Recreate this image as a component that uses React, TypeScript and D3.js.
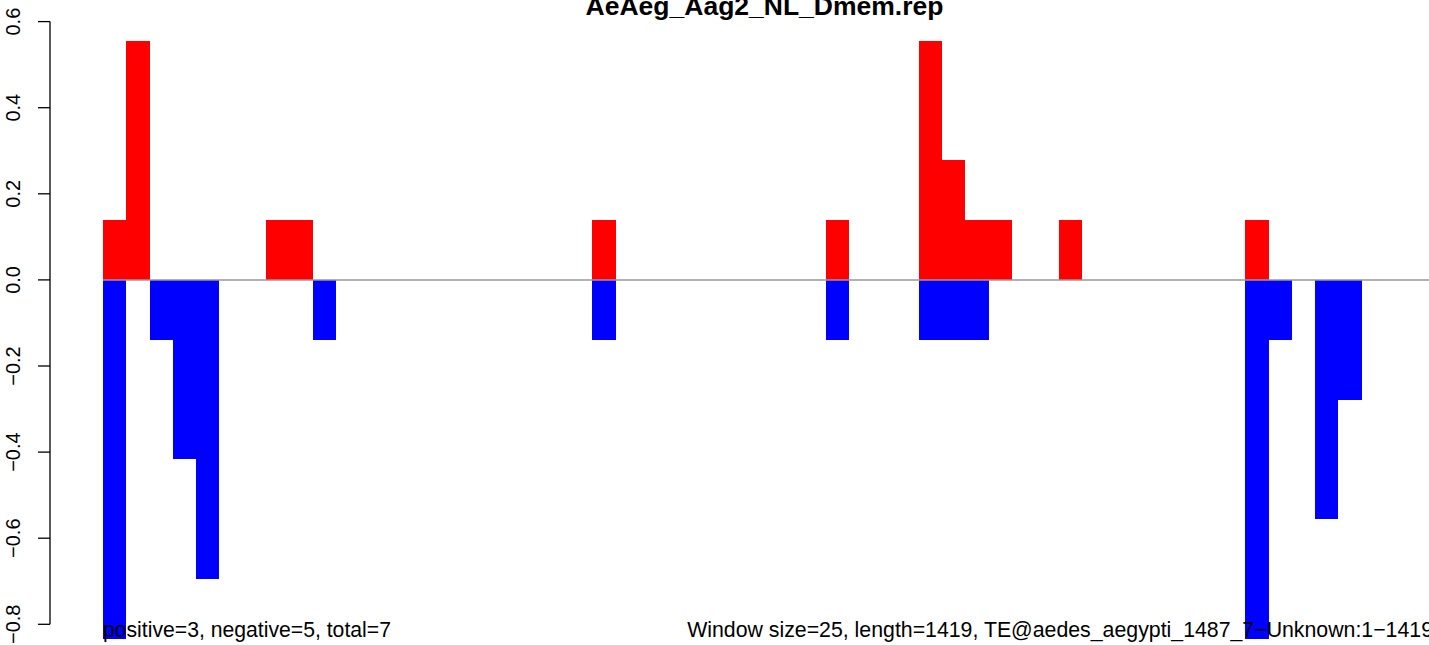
import React from "react";
import * as d3 from "d3";

const WINDOW = 25;
const LENGTH = 1419;
const TITLE = "AeAeg_Aag2_NL_Dmem.rep";
const LEFT_NOTE = "positive=3, negative=5, total=7";
const RIGHT_NOTE = "Window size=25, length=1419, TE@aedes_aegypti_1487_7\u2212Unknown:1\u22121419";

// bin index -> value
const posBins = [0, 1, 7, 8, 21, 31, 35, 36, 37, 38, 41, 49];
const posValues = [0.139, 0.556, 0.139, 0.139, 0.139, 0.139, 0.556, 0.278, 0.139, 0.139, 0.139, 0.139];
const negBins = [0, 2, 3, 4, 9, 21, 31, 35, 36, 37, 49, 50, 52, 53];
const negValues = [-0.833, -0.139, -0.417, -0.694, -0.139, -0.139, -0.139, -0.139, -0.139, -0.139, -0.833, -0.139, -0.556, -0.278];
const yTicks = [-0.8, -0.6, -0.4, -0.2, 0.0, 0.2, 0.4, 0.6];

export default function App() {
  const W = 1429, H = 645;
  const ext = LENGTH * 0.04;
  const k = 0.9325;
  const x = d3.scaleLinear().domain([-ext, LENGTH + ext]).range([50, 50 + (LENGTH + 2 * ext) * k]);
  const y = d3.scaleLinear().domain([-0.8, 0.6]).range([624.3, 21.6]);
  const fmt = (v: number) => v.toFixed(1).replace("-", "\u2212");
  const font = "'Liberation Sans', Arial, Helvetica, sans-serif";
  return (
    <svg width={W} height={H} style={{ position: "absolute", left: 0, top: 0, background: "#fff" }} fontFamily={font}>
      <text x={(x.range()[0] + x.range()[1]) / 2} y={15} textAnchor="middle" fontWeight="bold" fontSize={26.5}>{TITLE}</text>
      {posBins.map((b, i) => (
        <rect key={"p" + i} x={x(b * WINDOW)} width={x((b + 1) * WINDOW) - x(b * WINDOW)} y={y(posValues[i])} height={y(0) - y(posValues[i])} fill="#ff0000" shapeRendering="crispEdges" />
      ))}
      {negBins.map((b, i) => (
        <rect key={"n" + i} x={x(b * WINDOW)} width={x((b + 1) * WINDOW) - x(b * WINDOW)} y={y(0)} height={y(negValues[i]) - y(0)} fill="#0000ff" shapeRendering="crispEdges" />
      ))}
      <line x1={x(0)} x2={W} y1={y(0)} y2={y(0)} stroke="#999" strokeWidth={1.5} />
      <line x1={50} x2={50} y1={y(0.6)} y2={y(-0.8)} stroke="#000" strokeWidth={1.3} />
      {yTicks.map((t) => (
        <g key={t}>
          <line x1={38} x2={50} y1={y(t)} y2={y(t)} stroke="#000" strokeWidth={1.3} />
          <text transform={`translate(20,${y(t)}) rotate(-90)`} textAnchor="middle" fontSize={20}>{fmt(t)}</text>
        </g>
      ))}
      <text x={x(0)} y={637} fontSize={21.2}>{LEFT_NOTE}</text>
      <text x={1433} y={637} fontSize={21.3} textAnchor="end">{RIGHT_NOTE}</text>
    </svg>
  );
}
